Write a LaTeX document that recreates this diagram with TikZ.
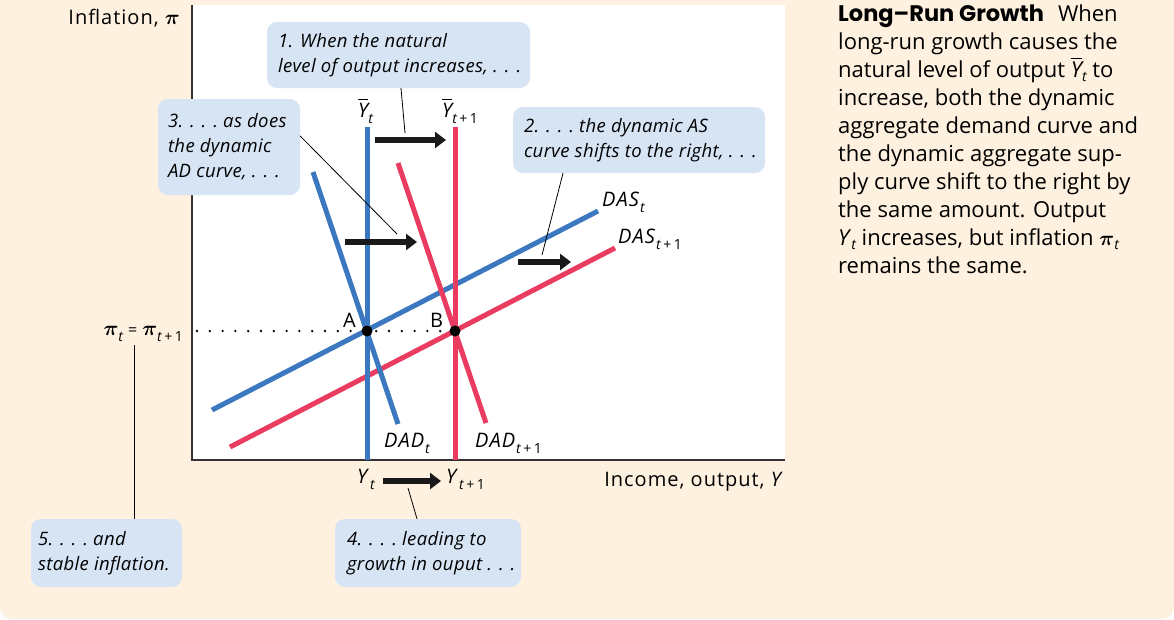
\documentclass[tikz,border=0pt]{standalone}
\usepackage{fontspec}
\usepackage{amsmath}
\setmainfont{Open Sans}
\newfontfamily\labfont{Open Sans}[LetterSpace=5]
\newfontfamily\callfont{Open Sans}[LetterSpace=2]
\newfontfamily\panelfont{Open Sans}
\newfontfamily\headfont{Poppins}
\usetikzlibrary{arrows.meta}
\definecolor{cream}{HTML}{FEF1DF}
\definecolor{callblue}{HTML}{D6E4F4}
\definecolor{curveblue}{HTML}{3B78C0}
\definecolor{curvered}{HTML}{EA3C60}
\definecolor{axisgray}{HTML}{333333}
\newcommand\lowsub[1]{\raisebox{-6pt}{\fontsize{14}{14}\selectfont #1}}
\newcommand\tpone{\lowsub{\itshape t\upshape\kern2.5pt+\kern2.5pt1}}
\newcommand\panelsub[1]{\raisebox{-4pt}{\fontsize{14}{14}\selectfont #1}}
\newcommand\ybar{$\overline{\mbox{\itshape Y}}$}
\newcommand\eld{.\kern7pt.\kern7pt.}
\begin{document}
\begin{tikzpicture}[x=1pt,y=-1pt]
\tikzset{
 curve/.style={line width=5pt},
 shiftarrow/.style={line width=5.5pt, -{Triangle[length=11pt,width=16pt]}, black!90},
 leader/.style={line width=0.8pt, black},
 callbox/.style={fill=callblue, rounded corners=10pt, inner sep=0pt, anchor=center},
 calltext/.style={anchor=west, inner sep=0pt, align=left, font=\callfont\fontsize{18.5}{25}\selectfont\itshape},
 lab/.style={anchor=base west, inner sep=0pt, font=\labfont\fontsize{20}{22}\selectfont},
 panel/.style={anchor=base west, inner sep=0pt, font=\panelfont\fontsize{22}{28}\selectfont},
 ptdot/.style={circle, fill=black, inner sep=0pt, minimum size=11pt},
}
\useasboundingbox (0,0) rectangle (1174,619);
\fill[white] (0,0) rectangle (1174,619);
\fill[cream, rounded corners=12pt] (0,0) rectangle (1174,619);
\fill[cream] (0,0) rectangle (1174,40);
\fill[white] (193,5) rectangle (785,460);
\draw[axisgray, line width=1.5pt] (192,5) -- (192,460) -- (785,460);

% curves
\draw[curve, curveblue] (212,410) -- (598,211);
\draw[curve, curvered] (230,447) -- (615,248);
\draw[curve, curveblue] (313,172) -- (398,424);
\draw[curve, curvered] (398,163) -- (486,423);
\draw[curve, curveblue] (367,127) -- (367,460);
\draw[curve, curvered] (455,127) -- (455,460);

% equilibrium points
\node[ptdot] (A) at (367,331) {};
\node[ptdot] (B) at (455,331) {};
\coordinate (dotstart) at (197,331);
\draw[line width=2.6pt, line cap=round, dash pattern=on 0pt off 12.8pt] (dotstart) -- (B);

% shift arrows
\coordinate (s1a) at (375,140); \coordinate (s1b) at (446,140);
\coordinate (s2a) at (345,242); \coordinate (s2b) at (417,242);
\coordinate (s3a) at (518,262); \coordinate (s3b) at (571,262);
\coordinate (s4a) at (383,481); \coordinate (s4b) at (441,481);
\draw[shiftarrow] (s1a) -- (s1b);
\draw[shiftarrow] (s2a) -- (s2b);
\draw[shiftarrow] (s3a) -- (s3b);
\draw[shiftarrow] (s4a) -- (s4b);

% callouts
\node[callbox, minimum width=263pt, minimum height=66pt] (c1) at (398.5,55) {};
\node[calltext] (t1) at ([xshift=11pt]c1.west) {1. When the natural\\level of output increases, \eld};
\node[callbox, minimum width=142pt, minimum height=96pt] (c3) at (229,147) {};
\node[calltext] (t3) at ([xshift=10pt]c3.west) {3. \eld\ as does\\the dynamic\\AD curve, \eld};
\node[callbox, minimum width=252pt, minimum height=66pt] (c2) at (639,140) {};
\node[calltext] (t2) at ([xshift=11pt]c2.west) {2. \eld\ the dynamic AS\\curve shifts to the right, \eld};
\node[callbox, minimum width=186pt, minimum height=68pt] (c4) at (428,553) {};
\node[calltext] (t4) at ([xshift=12pt]c4.west) {4. \eld\ leading to\\growth in ouput \eld};
\node[callbox, minimum width=151pt, minimum height=68pt] (c5) at (106.5,553) {};
\node[calltext] (t5) at ([xshift=7pt]c5.west) {5. \eld\ and\\stable inflation.};

% leaders
\coordinate (l1) at (405,133);
\coordinate (l3) at (397,234);
\coordinate (l2) at (542,255);
\coordinate (l4) at (408,488);
\coordinate (l5) at (134,345);
\draw[leader] ([xshift=2.5pt]c1.south) -- (l1);
\draw[leader] ([yshift=11pt]c3.east) -- (l3);
\draw[leader] ([xshift=-76pt]c2.south) -- (l2);
\draw[leader] ([xshift=-11pt]c4.north) -- (l4);
\draw[leader] ([xshift=27.5pt]c5.north) -- (l5);

% labels
\node[lab, anchor=base east] (ylab) at (180,24) {Inflation, $\boldsymbol{\pi}$};
\node[lab, anchor=base east] (xlab) at (784,486) {Income, output, \textit{Y}};
\node[lab] (ybt) at (358,117) {\ybar\lowsub{\itshape t}};
\node[lab] (ybt1) at (442,117) {\ybar\tpone};
\node[lab] (dast) at (602,206) {\textit{DAS}\lowsub{\itshape t}};
\node[lab] (dast1) at (618,243) {\textit{DAS}\tpone};
\node[lab] (dadt) at (384,447) {\textit{DAD}\lowsub{\itshape t}};
\node[lab] (dadt1) at (475,447) {\textit{DAD}\tpone};
\node[lab] (la) at (343,327) {A};
\node[lab] (lb) at (430,327) {B};
\node[lab, anchor=base east] (pil) at (183,335) {\fontsize{22}{22}\selectfont$\boldsymbol{\pi}$\lowsub{\itshape t}\kern5pt{\fontsize{16}{16}\selectfont=}\kern5pt$\boldsymbol{\pi}$\tpone};
\node[lab] (yt) at (357,483) {\textit{Y}\lowsub{\itshape t}};
\node[lab] (yt1) at (446,483) {\textit{Y}\tpone};

% side panel
\node[panel] (p1) at (838,21) {{\headfont\bfseries\fontsize{22.5}{28}\selectfont Long–Run Growth}\hspace{14pt}When};
\node[panel] (p2) at (838,49) {long-run growth causes the};
\node[panel] (p3) at (838,77) {natural level of output {\itshape\ybar}\panelsub{\itshape t} to};
\node[panel] (p4) at (838,105) {increase, both the dynamic};
\node[panel] (p5) at (838,133) {aggregate demand curve and};
\node[panel] (p6) at (838,161) {the dynamic aggregate sup-};
\node[panel] (p7) at (838,189) {ply curve shift to the right by};
\node[panel] (p8) at (838,217) {the same amount. Output};
\node[panel] (p9) at (838,245) {\textit{Y}\panelsub{\itshape t} increases, but inflation $\boldsymbol{\pi}$\panelsub{\itshape t}};
\node[panel] (p10) at (838,273) {remains the same.};
\end{tikzpicture}
\end{document}
